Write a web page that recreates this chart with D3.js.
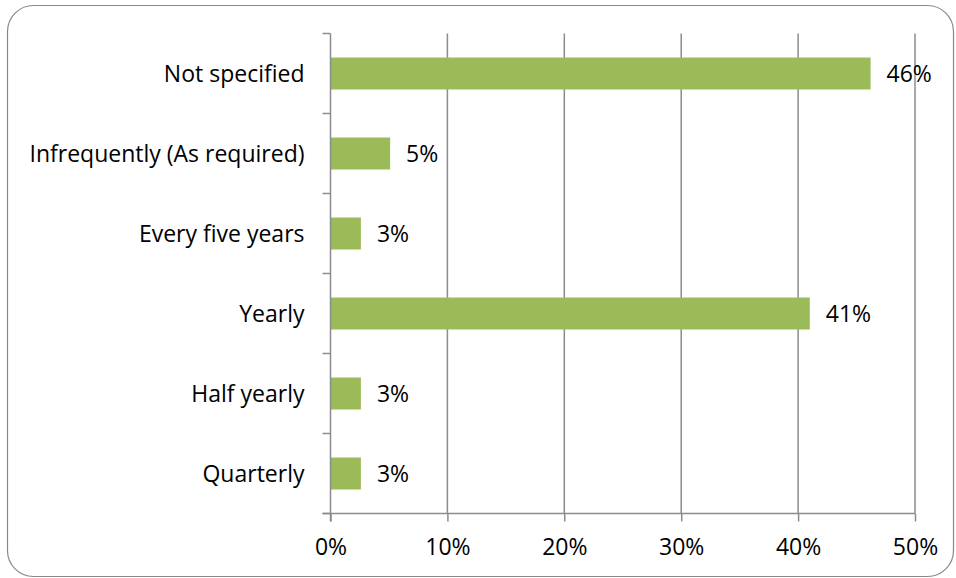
<!DOCTYPE html>
<html>
<head>
<meta charset="utf-8">
<script src="https://cdn.jsdelivr.net/npm/d3@7/dist/d3.min.js"></script>
<style>
  html, body { margin: 0; padding: 0; background: #fff; }
  svg { display: block; }
  text { font-family: "Open Sans", "Noto Sans", sans-serif; fill: #000; }
</style>
</head>
<body>
<svg id="chart" width="956" height="578"></svg>
<script>
// Frequency categories, top to bottom
const categories = [
  "Not specified",
  "Infrequently (As required)",
  "Every five years",
  "Yearly",
  "Half yearly",
  "Quarterly"
];
// Share of responses, percent
const shares = [46.2, 5.1, 2.6, 41.0, 2.6, 2.6];
// Axis tick values, percent
const xTicks = [0, 10, 20, 30, 40, 50];

const svg = d3.select("#chart");
const W = 956, H = 578;
const margin = { left: 330.5, right: 41, top: 33.5, bottom: 64.5 };
const fontSize = 23;

// Outer rounded frame
svg.append("rect")
  .attr("x", 7.5).attr("y", 5.5)
  .attr("width", W - 10).attr("height", H - 7)
  .attr("rx", 26).attr("ry", 26)
  .attr("fill", "#fff")
  .attr("stroke", "#888").attr("stroke-width", 1.2);

const x = d3.scaleLinear().domain([0, 50]).range([margin.left, W - margin.right]);
const y = d3.scaleBand().domain(categories).range([margin.top, H - margin.bottom]).paddingInner(0.6).paddingOuter(0.3);
const yBand = d3.scaleBand().domain(categories).range([margin.top, H - margin.bottom]);

const gridColor = "#8c8c8c";

// Vertical gridlines
svg.append("g").selectAll("line")
  .data(xTicks.slice(1))
  .join("line")
  .attr("x1", d => x(d)).attr("x2", d => x(d))
  .attr("y1", margin.top).attr("y2", H - margin.bottom)
  .attr("stroke", gridColor).attr("stroke-width", 1.5);

// Bars
svg.append("g").selectAll("rect")
  .data(categories)
  .join("rect")
  .attr("x", x(0))
  .attr("y", (d) => y(d))
  .attr("width", (d, i) => x(shares[i]) - x(0))
  .attr("height", y.bandwidth())
  .attr("fill", "#9bbb59");

// Value labels
const fmt = v => d3.format(".0f")(v) + "%";
svg.append("g").selectAll("text")
  .data(categories)
  .join("text")
  .attr("x", (d, i) => x(shares[i]) + 16)
  .attr("y", d => y(d) + y.bandwidth() / 2)
  .attr("dy", "0.36em")
  .attr("font-size", fontSize)
  .text((d, i) => fmt(shares[i]));

// X axis
const xAxis = d3.axisBottom(x)
  .tickValues(xTicks)
  .tickSize(8)
  .tickPadding(17)
  .tickFormat(d => d + "%");
const gx = svg.append("g")
  .attr("transform", `translate(0,${H - margin.bottom})`)
  .call(xAxis);
gx.select(".domain").remove();
gx.append("line")
  .attr("x1", x(0) - 8).attr("x2", x(50))
  .attr("stroke", gridColor).attr("stroke-width", 1.5);
gx.selectAll(".tick line").attr("stroke", gridColor).attr("stroke-width", 1.5);
gx.selectAll(".tick text")
  .attr("font-size", fontSize)
  .style("font-family", "'Open Sans', 'Noto Sans', sans-serif")
  .attr("fill", "#000");

// Y axis with ticks at band boundaries
const gy = svg.append("g");
gy.append("line")
  .attr("x1", x(0)).attr("x2", x(0))
  .attr("y1", margin.top).attr("y2", H - margin.bottom + 8)
  .attr("stroke", gridColor).attr("stroke-width", 1.5);
const boundaries = categories.map(d => yBand(d)).concat([H - margin.bottom]);
gy.selectAll("line.tk")
  .data(boundaries)
  .join("line")
  .attr("class", "tk")
  .attr("x1", x(0) - 8).attr("x2", x(0))
  .attr("y1", d => d).attr("y2", d => d)
  .attr("stroke", gridColor).attr("stroke-width", 1.5);
gy.selectAll("text")
  .data(categories)
  .join("text")
  .attr("x", x(0) - 26)
  .attr("y", d => yBand(d) + yBand.bandwidth() / 2)
  .attr("dy", "0.36em")
  .attr("text-anchor", "end")
  .attr("font-size", fontSize)
  .text(d => d);
</script>
</body>
</html>
